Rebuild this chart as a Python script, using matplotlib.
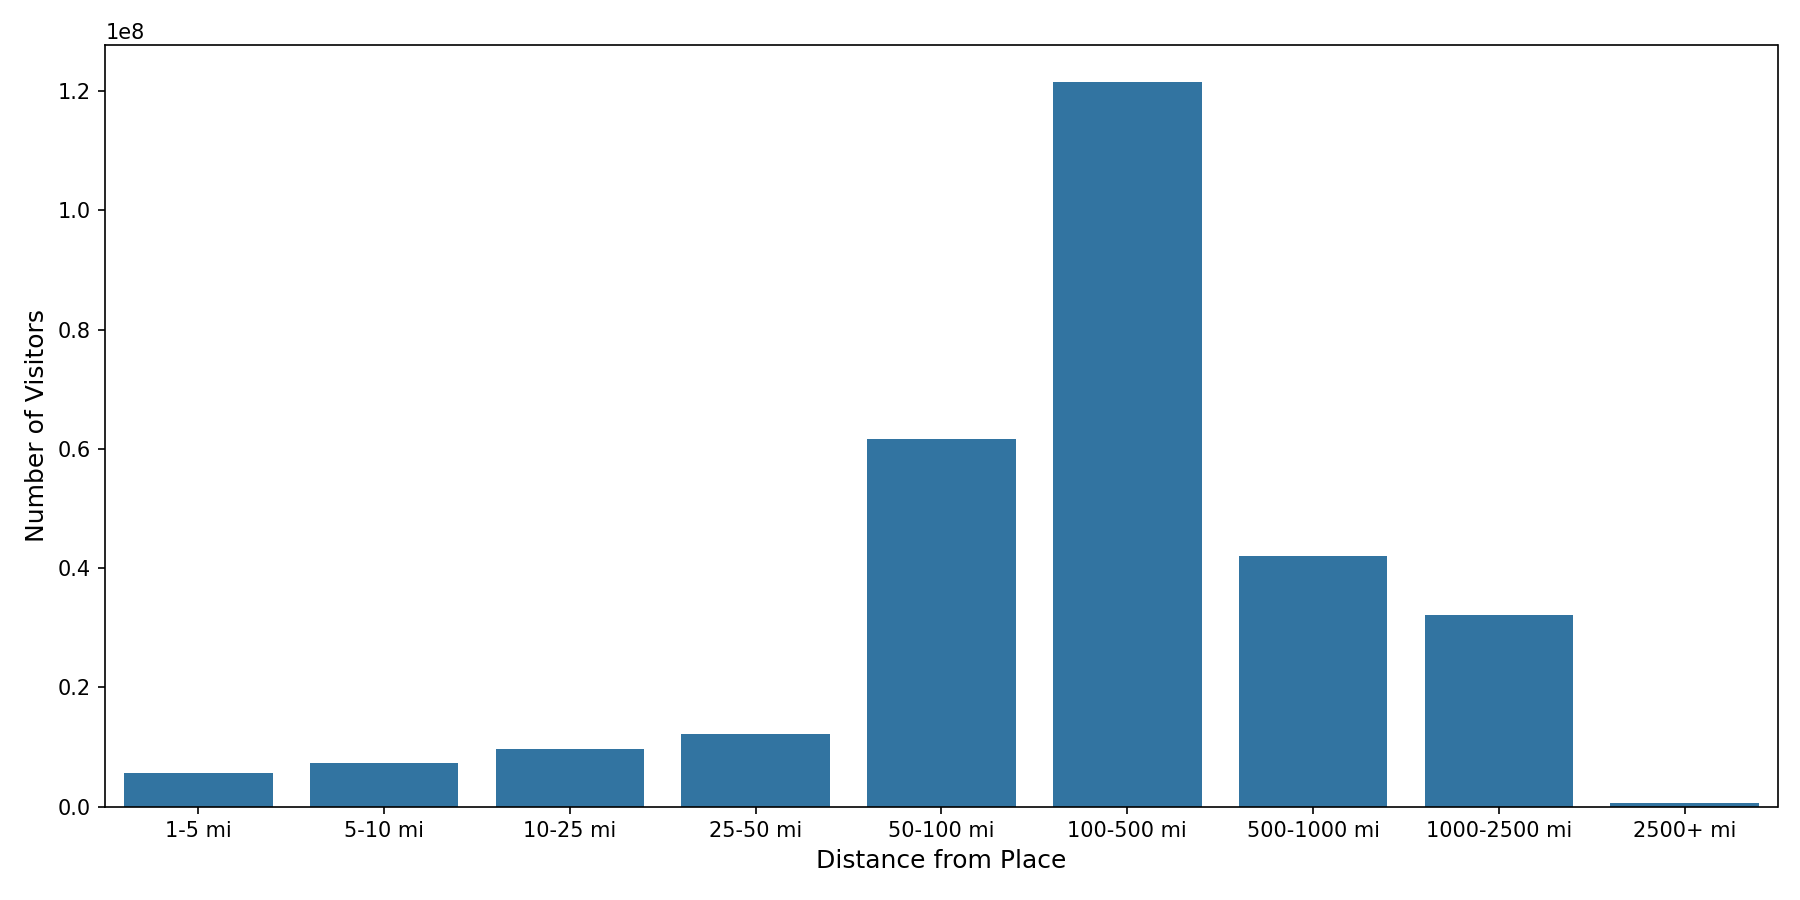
import matplotlib
matplotlib.use("Agg")
import matplotlib.pyplot as plt

distances = ["1-5 mi", "5-10 mi", "10-25 mi", "25-50 mi", "50-100 mi",
             "100-500 mi", "500-1000 mi", "1000-2500 mi", "2500+ mi"]
visitors = [5.6e6, 7.3e6, 9.6e6, 1.21e7, 6.17e7, 1.216e8, 4.2e7, 3.22e7, 6e5]

fig, ax = plt.subplots(figsize=(12, 6))
ax.bar(range(len(distances)), visitors, width=0.8, color="#3274a1")
ax.set_xticks(range(len(distances)))
ax.set_xticklabels(distances)
ax.set_xlim(-0.5, len(distances) - 0.5)
ax.set_xlabel("Distance from Place", fontsize=12)
ax.set_ylabel("Number of Visitors", fontsize=12)

plt.tight_layout()
fig.savefig("out.png", dpi=150)
